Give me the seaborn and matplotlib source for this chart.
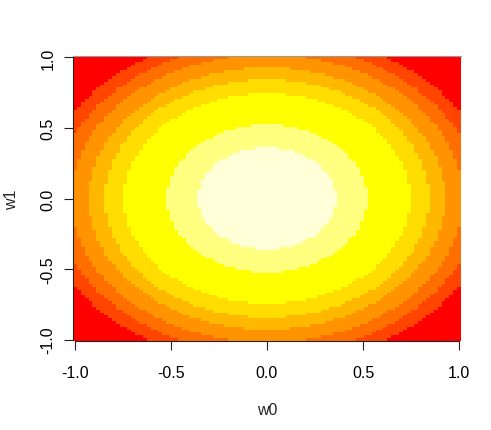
import numpy as np
import pandas as pd
import matplotlib
matplotlib.use("Agg")
import matplotlib.pyplot as plt
import seaborn as sns
from matplotlib.colors import ListedColormap

# Grid of weights (100 x 100 cells, as in the R image() call)
w0 = np.linspace(-1.0, 1.0, 100)
w1 = np.linspace(-1.0, 1.0, 100)

# Colour bands, inner (centre) to outer (corners)
band_colors = ["#FFFFD8", "#FFFF80", "#FFFF00", "#FFDD00", "#FFB800",
               "#FF9400", "#FF6F00", "#FF4500", "#FF0000"]
# Outer radius of each band
band_radius = [0.36, 0.52, 0.745, 0.845, 0.927, 1.02, 1.10, 1.178, np.inf]

tick_vals = [-1.0, -0.5, 0.0, 0.5, 1.0]
tick_labels = ["-1.0", "-0.5", "0.0", "0.5", "1.0"]

# Surface: distance from the origin, binned into the bands
W0, W1 = np.meshgrid(w0, w1)
dist = np.hypot(W0, W1)
band = np.searchsorted(band_radius, dist)
df = pd.DataFrame(band, index=w1, columns=w0)

sns.set_style("white")
plt.rcParams["font.family"] = ["Liberation Sans", "DejaVu Sans"]

fig = plt.figure(figsize=(4.91, 4.31), dpi=100)
ax = fig.add_axes([73 / 491, (431 - 342) / 431, 388 / 491, 285 / 431])

cmap = ListedColormap(band_colors)
sns.heatmap(df, cmap=cmap, vmin=-0.5, vmax=len(band_colors) - 0.5,
            cbar=False, xticklabels=False, yticklabels=False, ax=ax,
            rasterized=True)
ax.invert_yaxis()

# Ticks at the data values, mapped to cell positions
xpos = np.interp(tick_vals, w0, np.arange(len(w0)) + 0.5)
ypos = np.interp(tick_vals, w1, np.arange(len(w1)) + 0.5)
ax.set_xticks(xpos)
ax.set_xticklabels(tick_labels)
ax.set_yticks(ypos)
ax.set_yticklabels(tick_labels, rotation=90, va="center")

for side in ["left", "bottom"]:
    ax.spines[side].set_visible(True)
    ax.spines[side].set_color("#222222")
    ax.spines[side].set_linewidth(0.8)
ax.spines["bottom"].set_bounds(xpos[0], xpos[-1])
ax.spines["left"].set_bounds(ypos[0], ypos[-1])
ax.spines["top"].set_visible(True)
ax.spines["top"].set_color("#999999")
ax.spines["top"].set_linewidth(0.8)
ax.spines["right"].set_visible(False)

ax.tick_params(axis="both", direction="out", length=6.5, width=0.8,
               color="#222222", labelsize=11.5, labelcolor="black")
ax.tick_params(axis="x", pad=10.5, bottom=True)
ax.tick_params(axis="y", pad=6.2, left=True)

ax.set_xlabel("w0", fontsize=11.5)
ax.set_ylabel("w1", fontsize=11.5)
ax.xaxis.set_label_coords(0.5, (342 - 411) / 285)
ax.yaxis.set_label_coords((12 - 73) / 388, 0.5)
ax.xaxis.label.set_va("center")
ax.yaxis.label.set_va("center")

fig.savefig("out.png", dpi=100)
